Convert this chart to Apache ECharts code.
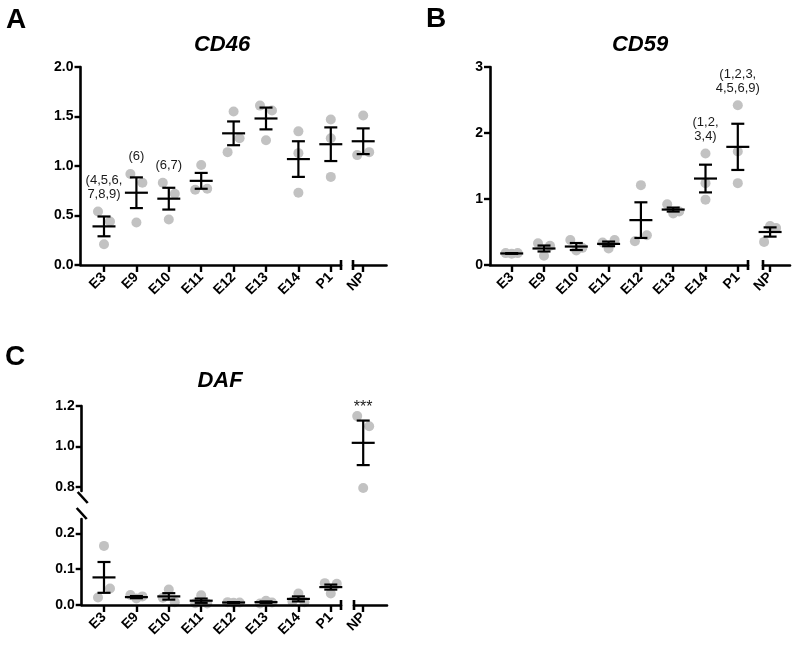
<!DOCTYPE html>
<html><head><meta charset="utf-8">
<script src="https://cdn.jsdelivr.net/npm/echarts@6/dist/echarts.min.js"></script>
<style>html,body{margin:0;padding:0;background:#fff}#c{width:800px;height:650px}</style>
</head><body><div id="c"></div>
<script>
// ---------------- data ----------------
const categories = ['E3','E9','E10','E11','E12','E13','E14','P1','NP'];

// CD46 (panel A): replicate values, mean, SEM, annotations
const cd46Points = [[0.54,0.44,0.21],[0.92,0.83,0.43],[0.83,0.72,0.46],[1.01,0.76,0.77],[1.55,1.14,1.28],[1.61,1.56,1.26],[1.35,1.13,0.73],[1.47,1.28,0.89],[1.51,1.11,1.14]];
const cd46Mean = [0.39,0.73,0.67,0.85,1.33,1.48,1.07,1.22,1.25];
const cd46Sem = [0.10,0.155,0.11,0.08,0.12,0.11,0.18,0.17,0.13];
const cd46Notes = ['(4,5,6,\n7,8,9)','(6)','(6,7)','','','','','',''];
const cd46Ticks = [0,0.5,1,1.5,2];

// CD59 (panel B)
const cd59Points = [[0.18,0.17,0.18],[0.33,0.14,0.29],[0.38,0.22,0.26],[0.34,0.25,0.38],[1.21,0.36,0.45],[0.92,0.78,0.81],[1.69,1.24,0.99],[2.42,1.72,1.24],[0.35,0.59,0.56]];
const cd59Mean = [0.175,0.25,0.28,0.32,0.68,0.84,1.31,1.79,0.50];
const cd59Sem = [0.005,0.045,0.053,0.035,0.27,0.03,0.21,0.35,0.07];
const cd59Notes = ['','','','','','','(1,2,\n3,4)','(1,2,3,\n4,5,6,9)',''];
const cd59Ticks = [0,1,2,3];

// DAF (panel C)
const dafPoints = [[0.165,0.021,0.046],[0.028,0.018,0.024],[0.020,0.043,0.008],[0.005,0.027,0.004],[0.008,0.006,0.007],[0.004,0.012,0.007],[0.010,0.032,0.008],[0.061,0.032,0.059],[1.15,1.10,0.795]];
const dafMean = [0.077,0.022,0.024,0.012,0.007,0.008,0.017,0.050,1.018];
const dafSem = [0.043,0.003,0.009,0.006,0.001,0.002,0.007,0.007,0.11];
const dafNotes = ['','','','','','','','','***'];
const dafTicksUpper = [0.8,1.0,1.2];
const dafTicksLower = [0,0.1,0.2];

// ---------------- style / layout ----------------
const AXW = 2.6, DOT_R = 5, DOT_COLOR = '#c2c2c2', JIT = 6, CLUSTER_PX = 15;
const BAR_W = 2.2, CAP_HW = 6.5, MEAN_HW = 11.5, NOTE_GAP = 5;
const LABEL_FONT = '"Liberation Sans", Arial, sans-serif';

const option = {animation:false, backgroundColor:'#fff', grid:[], xAxis:[], yAxis:[], series:[], graphic:[]};

function addGrid(r, xr, yr, xShow, yShow, xTicks, yTicks, yFmt) {
  const gi = option.grid.length;
  option.grid.push({left:r.l, top:r.t, width:r.w, height:r.h});
  option.xAxis.push({
    type:'value', gridIndex:gi, min:xr[0], max:xr[1], show:xShow, z:3,
    splitLine:{show:false},
    axisLine:{show:true, onZero:false, lineStyle:{color:'#000', width:AXW}},
    axisTick:{show:true, length:7, customValues:xTicks, lineStyle:{color:'#000', width:2.4}},
    axisLabel:{customValues:xTicks, rotate:45, margin:10, color:'#000', fontFamily:LABEL_FONT, fontWeight:'bold', fontSize:14,
      formatter:v => categories[Math.round(v)]}
  });
  option.yAxis.push({
    type:'value', gridIndex:gi, min:yr[0], max:yr[1], show:yShow, z:3,
    splitLine:{show:false},
    axisLine:{show:true, onZero:false, lineStyle:{color:'#000', width:AXW}},
    axisTick:{show:true, length:6, customValues:yTicks, lineStyle:{color:'#000', width:2.4}},
    axisLabel:{customValues:yTicks, margin:7, color:'#000', fontFamily:LABEL_FONT, fontWeight:'bold', fontSize:14, formatter:yFmt}
  });
  return gi;
}

function makeGroupRenderer(points, notes) {
  return function (params, api) {
    const ci = api.value(0), mean = api.value(1), sem = api.value(2);
    const vals = points[ci];
    const cx = api.coord([ci, mean])[0];
    const ys = vals.map(v => api.coord([ci, v])[1]);
    const order = ys.map((_, i) => i).sort((a, b) => ys[a] - ys[b]);
    const clusters = []; let cur = [order[0]];
    for (let k = 1; k < order.length; k++) {
      if (ys[order[k]] - ys[order[k-1]] < CLUSTER_PX) cur.push(order[k]);
      else { clusters.push(cur); cur = [order[k]]; }
    }
    clusters.push(cur);
    const dx = vals.map(() => 0);
    clusters.forEach(cl => {
      const idx = cl.slice().sort((a, b) => a - b); const n = idx.length;
      if (n > 1) idx.forEach((p, k) => { dx[p] = (k - (n - 1) / 2) * 2 * JIT / (n - 1); });
    });
    const children = [];
    vals.forEach((v, i) => children.push({type:'circle', shape:{cx:cx + dx[i], cy:ys[i], r:DOT_R}, style:{fill:DOT_COLOR}}));
    const yM = api.coord([ci, mean])[1], yLo = api.coord([ci, mean - sem])[1], yHi = api.coord([ci, mean + sem])[1];
    const ls = {stroke:'#000', lineWidth:BAR_W};
    children.push({type:'line', shape:{x1:cx, y1:yHi, x2:cx, y2:yLo}, style:ls});
    children.push({type:'line', shape:{x1:cx - CAP_HW, y1:yHi, x2:cx + CAP_HW, y2:yHi}, style:ls});
    children.push({type:'line', shape:{x1:cx - CAP_HW, y1:yLo, x2:cx + CAP_HW, y2:yLo}, style:ls});
    children.push({type:'line', shape:{x1:cx - MEAN_HW, y1:yM, x2:cx + MEAN_HW, y2:yM}, style:ls});
    if (notes[ci]) {
      const top = Math.min(Math.min.apply(null, ys) - DOT_R, yHi);
      const star = notes[ci] === '***';
      children.push({type:'text', x:cx, y:top - (star ? -3 : NOTE_GAP), style:{text:notes[ci], align:'center', verticalAlign:'bottom',
        fill:'#1a1a1a', font:(star ? '16px' : '13px') + ' "Liberation Sans", Arial, sans-serif', lineHeight:14}});
    }
    return {type:'group', children};
  };
}

function addGroups(gi, idxs, points, means, sems, notes) {
  option.series.push({type:'custom', xAxisIndex:gi, yAxisIndex:gi, z:1, silent:true, clip:false,
    data: idxs.map(i => [i, means[i], sems[i]]), renderItem: makeGroupRenderer(points, notes)});
}

// decorations: break caps on the x axis, slashes on broken y axis
function addDecor(gi, x, y, kind) {
  option.series.push({type:'custom', xAxisIndex:gi, yAxisIndex:gi, z:4, silent:true, clip:false, data:[[x, y]],
    renderItem:(p, api) => {
      const c = api.coord([api.value(0), api.value(1)]);
      const st = {stroke:'#000', lineWidth:AXW};
      if (kind === 'cap') return {type:'line', shape:{x1:c[0], y1:c[1] - 5, x2:c[0], y2:c[1] + 5}, style:st};
      if (kind === 'slashBottom') return {type:'line', shape:{x1:c[0] - 4, y1:c[1] + 1, x2:c[0] + 6, y2:c[1] + 12}, style:st};
      return {type:'line', shape:{x1:c[0] - 5, y1:c[1] - 11, x2:c[0] + 5, y2:c[1]}, style:st};
    }});
}

const fmt1 = v => v.toFixed(1);
const fmt0 = v => String(Math.round(v));

function panel(L, points, means, sems, notes, yTicks, yFmt) {
  const xm = (px) => (px - L.x0) / L.step;
  const rMain = {l:L.axisX, t:L.top, w:L.breakL - L.axisX, h:L.bottom - L.top};
  const rNP = {l:L.breakR, t:L.top, w:L.endX - L.breakR, h:L.bottom - L.top};
  const g1 = addGrid(rMain, [xm(L.axisX), xm(L.breakL)], [L.ymin, L.ymax], true, true, [0,1,2,3,4,5,6,7], yTicks, yFmt);
  const g2 = addGrid(rNP, [xm(L.breakR), xm(L.endX)], [L.ymin, L.ymax], true, false, [8], yTicks, yFmt);
  addGroups(g1, [0,1,2,3,4,5,6,7], points, means, sems, notes);
  addGroups(g2, [8], points, means, sems, notes);
  addDecor(g1, xm(L.breakL), L.ymin, 'cap');
  addDecor(g2, xm(L.breakR), L.ymin, 'cap');
}

// Panel A
panel({axisX:80.5, x0:104, step:32.4, breakL:341, breakR:353, endX:386.5, top:67, bottom:265, ymin:0, ymax:2},
  cd46Points, cd46Mean, cd46Sem, cd46Notes, cd46Ticks, fmt1);
// Panel B
panel({axisX:490, x0:511.7, step:32.3, breakL:748, breakR:763, endX:790, top:67, bottom:265, ymin:0, ymax:3},
  cd59Points, cd59Mean, cd59Sem, cd59Notes, cd59Ticks, fmt0);

// Panel C (broken y axis)
(function () {
  const L = {axisX:81.7, x0:104, step:32.4, breakL:341, breakR:354, endX:387};
  const xm = (px) => (px - L.x0) / L.step;
  const up = {t:406, b:491, min:0.78, max:1.2};
  const lo = {t:519, b:605, min:0, max:0.24};
  const gU = addGrid({l:L.axisX, t:up.t, w:L.endX - L.axisX, h:up.b - up.t}, [xm(L.axisX), xm(L.endX)], [up.min, up.max], false, true, [], dafTicksUpper, fmt1);
  const g1 = addGrid({l:L.axisX, t:lo.t, w:L.breakL - L.axisX, h:lo.b - lo.t}, [xm(L.axisX), xm(L.breakL)], [lo.min, lo.max], true, true, [0,1,2,3,4,5,6,7], dafTicksLower, fmt1);
  const g2 = addGrid({l:L.breakR, t:lo.t, w:L.endX - L.breakR, h:lo.b - lo.t}, [xm(L.breakR), xm(L.endX)], [lo.min, lo.max], true, false, [8], dafTicksLower, fmt1);
  const lowIdx = [], upIdx = [];
  categories.forEach((c, i) => (dafMean[i] > up.min ? upIdx : lowIdx).push(i));
  addGroups(g1, lowIdx.filter(i => i < 8), dafPoints, dafMean, dafSem, dafNotes);
  addGroups(gU, upIdx, dafPoints, dafMean, dafSem, dafNotes);
  addDecor(g1, xm(L.breakL), 0, 'cap');
  addDecor(g2, xm(L.breakR), 0, 'cap');
  addDecor(gU, xm(L.axisX), up.min, 'slashBottom');
  addDecor(g1, xm(L.axisX), lo.max, 'slashTop');
})();

// titles and panel letters
const titleFont = 'italic bold 22px "Liberation Sans", Arial, sans-serif';
const letterFont = 'bold 28px "Liberation Sans", Arial, sans-serif';
option.graphic = [
  {type:'text', x:222, y:45, style:{text:'CD46', font:titleFont, fill:'#000', align:'center', verticalAlign:'middle'}},
  {type:'text', x:640, y:45, style:{text:'CD59', font:titleFont, fill:'#000', align:'center', verticalAlign:'middle'}},
  {type:'text', x:220, y:381, style:{text:'DAF', font:titleFont, fill:'#000', align:'center', verticalAlign:'middle'}},
  {type:'text', x:16, y:20, style:{text:'A', font:letterFont, fill:'#000', align:'center', verticalAlign:'middle'}},
  {type:'text', x:436, y:19, style:{text:'B', font:letterFont, fill:'#000', align:'center', verticalAlign:'middle'}},
  {type:'text', x:15, y:357, style:{text:'C', font:letterFont, fill:'#000', align:'center', verticalAlign:'middle'}}
];

const chart = echarts.init(document.getElementById('c'), null, {renderer:'canvas'});
chart.setOption(option);
</script></body></html>
